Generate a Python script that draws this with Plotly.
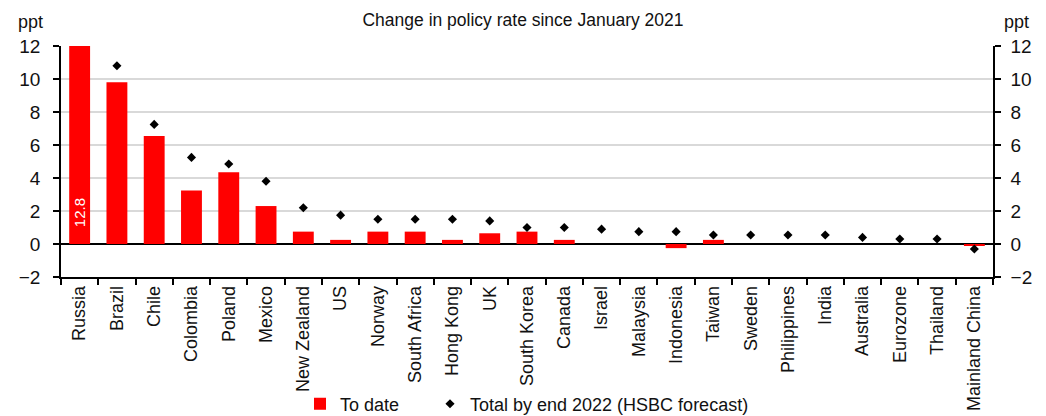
import plotly.graph_objects as go

countries = ["Russia", "Brazil", "Chile", "Colombia", "Poland", "Mexico", "New Zealand", "US",
             "Norway", "South Africa", "Hong Kong", "UK", "South Korea", "Canada", "Israel",
             "Malaysia", "Indonesia", "Taiwan", "Sweden", "Philippines", "India", "Australia",
             "Eurozone", "Thailand", "Mainland China"]
to_date = [12.8, 9.8, 6.55, 3.25, 4.35, 2.3, 0.75, 0.25,
           0.75, 0.75, 0.25, 0.65, 0.75, 0.25, 0.0,
           0.0, -0.25, 0.25, 0.0, 0.0, 0.0, 0.0,
           0.0, 0.0, -0.1]
forecast_2022 = [None, 10.8, 7.25, 5.25, 4.85, 3.8, 2.2, 1.75,
                 1.5, 1.5, 1.5, 1.4, 1.0, 1.0, 0.9,
                 0.75, 0.75, 0.55, 0.55, 0.55, 0.55, 0.4,
                 0.3, 0.3, -0.3]
russia_label = "12.8"
y_ticks = [-2, 0, 2, 4, 6, 8, 10, 12]

FONT = "Liberation Sans, Arial, sans-serif"
TXT = "#111111"

fig = go.Figure()
fig.add_trace(go.Bar(
    x=countries, y=to_date, name="To date",
    marker=dict(color="#ff0000", line=dict(width=0)),
    cliponaxis=True, legend="legend",
))
fig.add_trace(go.Scatter(
    x=countries, y=forecast_2022, name="Total by end 2022 (HSBC forecast)",
    mode="markers", marker=dict(symbol="diamond", color="black", size=7),
    yaxis="y2", legend="legend2",
))

axis_common = dict(
    range=[-2, 12], tickvals=y_ticks, ticks="outside", ticklen=6, tickcolor="black",
    tickwidth=1.5, showline=True, linecolor="black", linewidth=1.5,
    tickfont=dict(family=FONT, size=19, color=TXT),
)

legend_common = dict(orientation="h", xanchor="left", yanchor="middle", y=-0.55,
                     bgcolor="rgba(0,0,0,0)", itemwidth=30,
                     font=dict(family=FONT, size=18, color=TXT))

fig.update_layout(
    width=1046, height=416,
    margin=dict(l=61, r=53, t=46, b=139, autoexpand=False),
    plot_bgcolor="white", paper_bgcolor="white",
    font=dict(family=FONT, size=18, color=TXT),
    bargap=0.44,
    showlegend=True,
    title=dict(text="Change in policy rate since January 2021", x=523 / 1046, xanchor="center",
               y=1 - 20 / 416, yanchor="middle", font=dict(family=FONT, size=17.5, color=TXT)),
    xaxis=dict(
        range=[-0.5, len(countries) - 0.5],
        tickangle=-90, ticks="outside", tickson="boundaries", ticklen=6, tickcolor="black",
        tickwidth=1.5, showline=True, linecolor="black", linewidth=1.5,
        tickfont=dict(family=FONT, size=18, color=TXT), showgrid=False,
    ),
    yaxis=dict(**axis_common, ticklabelstandoff=9, showgrid=True, gridcolor="#d9d9d9",
               gridwidth=1.5, zeroline=True, zerolinecolor="black", zerolinewidth=1.5),
    yaxis2=dict(**axis_common, ticklabelstandoff=6, overlaying="y", side="right",
                showgrid=False, zeroline=False),
    legend=dict(**legend_common, x=(300 - 61) / 932),
    legend2=dict(**legend_common, x=(430 - 61) / 932),
    annotations=[
        dict(text="ppt", xref="paper", yref="paper", x=(45 - 61) / 932, y=1 + 24 / 231,
             xanchor="right", yanchor="middle", showarrow=False,
             font=dict(family=FONT, size=18, color=TXT)),
        dict(text="ppt", xref="paper", yref="paper", x=(1016 - 61) / 932, y=1 + 24 / 231,
             xanchor="center", yanchor="middle", showarrow=False,
             font=dict(family=FONT, size=18, color=TXT)),
        dict(text=russia_label, x=countries[0], y=0, xref="x", yref="y",
             textangle=-90, xanchor="center", yanchor="bottom", yshift=15,
             showarrow=False, font=dict(family=FONT, size=15, color="white")),
    ],
)

fig.write_html("out.html")
